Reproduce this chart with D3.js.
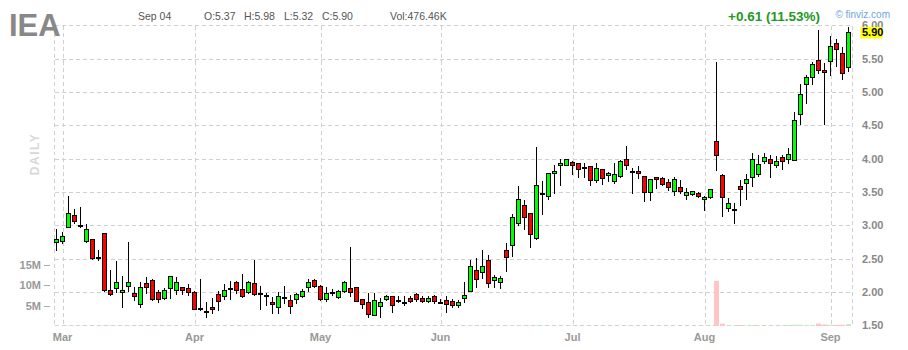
<!DOCTYPE html>
<meta charset="utf-8">
<script src="https://d3js.org/d3.v7.min.js"></script>
<style>
  body { margin: 0; background: #fff; }
  text { font-family: "Liberation Sans", Arial, sans-serif; }
</style>
<div id="chart"></div>
<script>

// month labels and the index of the first trading day of each month
const months = ["Mar", "Apr", "May", "Jun", "Jul", "Aug", "Sep"];
const monthStart = [1, 23, 44, 64, 86, 108, 129];

const priceTicks = [1.5, 2, 2.5, 3, 3.5, 4, 4.5, 5, 5.5, 6];
const volTicks = [5e6, 10e6, 15e6];

// daily OHLC, Feb 28 -> Sep 04
const opens = [2.75,2.76,2.98,3.16,3.00,2.77,2.79,2.53,2.88,2.03,
  2.06,2.00,2.09,1.98,1.82,2.13,2.18,2.00,1.91,2.06,
  2.03,2.07,2.06,2.00,1.76,1.72,1.78,1.97,1.94,2.06,
  2.15,2.04,2.00,2.13,1.99,1.95,1.85,1.78,1.93,1.88,
  1.89,1.94,2.07,2.18,2.09,1.89,2.00,1.92,2.01,2.06,
  2.07,1.89,1.85,1.65,1.79,1.89,1.94,1.88,1.85,1.91,
  1.97,1.91,1.86,1.94,1.85,1.88,1.86,1.80,1.91,2.02,
  2.33,2.30,2.48,2.18,2.15,2.63,2.70,3.03,3.30,3.18,
  2.81,3.48,3.44,3.78,3.90,3.90,3.95,3.93,3.87,3.89,
  3.68,3.84,3.75,3.66,3.74,3.99,3.81,3.81,3.74,3.50,
  3.72,3.71,3.65,3.51,3.57,3.46,3.47,3.48,3.39,3.42,
  4.27,3.76,3.26,3.25,3.59,3.63,3.72,3.77,3.96,3.99,
  3.90,4.03,3.99,3.98,4.67,5.12,5.22,5.48,5.33,5.46,
  5.74,5.59,5.37];
const highs = [2.94,2.90,3.44,3.24,3.28,3.02,2.80,2.63,2.89,2.33,
  2.47,2.24,2.75,2.08,2.15,2.22,2.19,2.03,2.06,2.24,
  2.23,2.08,2.12,2.01,2.19,1.85,1.91,2.02,2.12,2.17,
  2.16,2.27,2.17,2.48,2.09,1.98,1.93,2.00,2.09,1.95,
  1.99,2.04,2.19,2.20,2.10,2.08,2.05,2.03,2.17,2.68,
  2.08,1.89,1.99,1.99,1.91,1.95,1.94,1.94,1.94,1.94,
  1.98,1.94,1.94,1.95,1.89,1.94,1.90,1.88,2.15,2.48,
  2.51,2.63,2.56,2.25,2.24,2.73,3.17,3.59,3.38,3.18,
  4.18,3.66,3.79,3.91,3.99,3.99,3.96,3.94,3.93,3.89,
  3.93,3.84,3.80,3.93,3.98,4.19,3.86,3.89,3.74,3.69,
  3.72,3.72,3.69,3.72,3.68,3.56,3.52,3.50,3.44,3.55,
  5.45,3.77,3.41,3.34,3.68,3.77,4.09,4.05,4.09,4.06,
  4.04,4.06,4.16,4.70,5.12,5.26,5.45,5.93,5.43,5.84,
  5.80,5.68,5.98];
const lows = [2.63,2.74,2.97,3.03,2.98,2.75,2.50,2.48,2.02,1.96,
  2.00,1.78,2.02,1.88,1.78,1.99,1.88,1.85,1.90,1.91,
  1.97,1.97,1.96,1.74,1.73,1.63,1.68,1.73,1.90,1.90,
  1.99,1.93,1.99,1.96,1.75,1.80,1.69,1.69,1.83,1.69,
  1.83,1.92,2.02,2.08,1.88,1.87,1.96,1.91,2.00,1.94,
  1.86,1.76,1.62,1.65,1.63,1.88,1.70,1.85,1.80,1.85,
  1.86,1.85,1.85,1.83,1.84,1.70,1.78,1.78,1.85,2.01,
  2.08,2.21,2.08,2.08,2.06,2.32,2.54,3.00,2.95,2.68,
  2.80,3.17,3.39,3.48,3.60,3.90,3.77,3.72,3.72,3.61,
  3.65,3.62,3.66,3.63,3.72,3.84,3.48,3.71,3.36,3.38,
  3.56,3.60,3.53,3.45,3.48,3.40,3.46,3.42,3.23,3.41,
  3.83,3.14,3.21,3.04,3.31,3.40,3.59,3.74,3.94,3.73,
  3.88,3.85,3.94,3.98,4.52,4.83,5.12,5.28,4.52,5.25,
  5.39,5.20,5.32];
const closes = [2.80,2.84,3.18,3.06,3.00,2.94,2.51,2.53,2.03,1.97,
  2.15,2.03,2.15,1.94,2.08,2.07,1.89,1.89,2.03,2.24,
  2.15,2.03,2.00,1.74,1.76,1.72,1.75,1.87,2.03,2.06,
  2.03,1.94,2.15,1.97,1.99,1.95,1.82,1.94,1.93,1.79,
  1.97,2.02,2.15,2.09,1.89,1.99,2.00,2.02,2.15,2.00,
  1.86,1.82,1.67,1.88,1.85,1.94,1.80,1.88,1.85,1.87,
  1.89,1.86,1.91,1.87,1.85,1.82,1.80,1.85,1.95,2.39,
  2.19,2.39,2.13,2.22,2.21,2.53,3.12,3.39,3.12,2.87,
  3.60,3.48,3.78,3.81,3.93,3.99,3.90,3.84,3.87,3.68,
  3.86,3.71,3.78,3.77,3.96,3.90,3.81,3.78,3.50,3.69,
  3.69,3.62,3.57,3.69,3.51,3.50,3.51,3.44,3.42,3.54,
  4.05,3.43,3.34,3.25,3.54,3.69,3.99,3.92,4.03,3.93,
  3.96,3.96,4.07,4.58,4.97,5.22,5.42,5.33,5.30,5.69,
  5.65,5.29,5.90];
// volume in thousands of shares
const volumesK = [60,45,120,70,55,60,80,50,150,110,
  70,65,90,60,75,55,90,60,50,70,
  45,40,50,90,60,45,40,55,50,45,
  40,60,50,160,70,40,45,55,40,45,
  40,35,55,50,60,45,30,35,50,140,
  60,55,70,65,40,35,50,30,35,30,
  35,30,25,30,25,35,30,25,60,110,
  80,90,100,50,40,70,110,120,90,100,
  170,90,100,70,60,50,45,50,40,55,
  45,40,35,45,50,70,55,40,60,50,
  40,35,40,50,35,40,30,35,60,70,
  11100,560,100,90,260,110,250,110,100,90,
  95,100,240,330,300,260,250,620,380,300,
  280,300,476];

const data = opens.map((o, i) => ({
  i: i, o: o, h: highs[i], l: lows[i], c: closes[i], v: volumesK[i] * 1000
}));

const W = 908, H = 350;
const plotL = 54.5, plotR = 852.5, plotT = 25.3, plotB = 325.3;

const svg = d3.select("#chart").append("svg")
  .attr("width", W).attr("height", H)
  .style("display", "block");

const x = d3.scaleLinear().domain([0, 132]).range([56.5, 848.5]);
const y = d3.scaleLinear().domain([1.5, 6]).range([plotB, plotT]);
const yv = d3.scaleLinear().domain([0, 15e6]).range([326, 265]);

const px = v => Math.round(v) + 0.5;
const grid = "#d0d0d0";

// grid
const g = svg.append("g").attr("shape-rendering", "crispEdges");
g.selectAll(".hg").data(priceTicks).join("line")
  .attr("x1", plotL).attr("x2", plotR)
  .attr("y1", d => px(y(d))).attr("y2", d => px(y(d)))
  .attr("stroke", grid).attr("stroke-dasharray", "4,3");
g.selectAll(".vg").data(monthStart).join("line")
  .attr("x1", d => px(x(d))).attr("x2", d => px(x(d)))
  .attr("y1", px(plotT)).attr("y2", px(plotB))
  .attr("stroke", grid).attr("stroke-dasharray", "4,3");
[plotL, plotR].forEach(xx => {
  g.append("line").attr("x1", xx).attr("x2", xx)
    .attr("y1", px(plotT)).attr("y2", px(plotB))
    .attr("stroke", grid).attr("stroke-dasharray", "4,3");
});

// volume bars
svg.append("g").selectAll("rect").data(data).join("rect")
  .attr("x", d => x(d.i) - 2.5)
  .attr("width", 5)
  .attr("y", d => yv(d.v))
  .attr("height", d => yv(0) - yv(d.v))
  .attr("fill", d => d.c >= d.o ? "#c4ecc4" : "#ffc4c4");

// volume axis
const vAxis = svg.append("g");
vAxis.selectAll("line").data(volTicks).join("line")
  .attr("x1", 44).attr("x2", 50)
  .attr("y1", d => px(yv(d))).attr("y2", d => px(yv(d)))
  .attr("stroke", "#aaa").attr("shape-rendering", "crispEdges");
vAxis.selectAll("text").data(volTicks).join("text")
  .attr("x", 41).attr("y", d => yv(d) + 4)
  .attr("text-anchor", "end")
  .attr("font-size", 11).attr("font-weight", "bold").attr("fill", "#999")
  .text(d => d / 1e6 + "M");

// candles
const cg = svg.append("g").attr("shape-rendering", "crispEdges");
cg.selectAll(".wick").data(data).join("line")
  .attr("x1", d => x(d.i)).attr("x2", d => x(d.i))
  .attr("y1", d => Math.round(y(d.h))).attr("y2", d => Math.round(y(d.l)) + 1)
  .attr("stroke", "#000");
const bodies = data.filter(d => d.o !== d.c);
cg.selectAll(".body").data(bodies).join("rect")
  .attr("x", d => x(d.i) - 2)
  .attr("width", 4)
  .attr("y", d => px(y(Math.max(d.o, d.c))))
  .attr("height", d => Math.max(1, Math.round(y(Math.min(d.o, d.c))) - Math.round(y(Math.max(d.o, d.c)))))
  .attr("fill", d => d.c > d.o ? "#00ff00" : "#ff0000")
  .attr("stroke", "#000");
cg.selectAll(".doji").data(data.filter(d => d.o === d.c)).join("line")
  .attr("x1", d => x(d.i) - 2.5).attr("x2", d => x(d.i) + 2.5)
  .attr("y1", d => px(y(d.c))).attr("y2", d => px(y(d.c)))
  .attr("stroke", "#000").attr("stroke-width", 2);

// price axis (6.00 sits partly under the last-price marker, as in finviz)
svg.append("g").selectAll("text").data(priceTicks).join("text")
  .attr("x", 862).attr("y", d => y(d) + 4)
  .attr("font-size", 11).attr("font-weight", "bold").attr("fill", "#888")
  .text(d => d.toFixed(2));

// last price marker
const last = closes[closes.length - 1];
svg.append("rect").attr("x", 860.5).attr("y", y(last) - 5)
  .attr("width", 22).attr("height", 11.5).attr("fill", "#ffff00");
svg.append("text").attr("x", 862).attr("y", y(last) + 4)
  .attr("font-size", 11).attr("font-weight", "bold").attr("fill", "#000")
  .text(last.toFixed(2));

// month labels
svg.append("g").selectAll("text").data(monthStart).join("text")
  .attr("x", d => x(d)).attr("y", 341)
  .attr("text-anchor", "middle")
  .attr("font-size", 11).attr("font-weight", "bold").attr("fill", "#999")
  .text((d, k) => months[k]);

// titles
svg.append("text").attr("x", 9).attr("y", 35.5)
  .attr("font-size", 31).attr("font-weight", "bold").attr("fill", "#888")
  .text("IEA");
svg.append("text")
  .attr("transform", "translate(38.5,154) rotate(-90)")
  .attr("text-anchor", "middle")
  .attr("font-size", 12).attr("font-weight", "bold").attr("fill", "#d8d8d8")
  .attr("letter-spacing", 1.5)
  .text("DAILY");

const hdr = [["Sep 04", 138], ["O:5.37", 204], ["H:5.98", 244], ["L:5.32", 284],
  ["C:5.90", 322], ["Vol:476.46K", 390]];
svg.append("g").selectAll("text").data(hdr).join("text")
  .attr("x", d => d[1]).attr("y", 19.5)
  .attr("font-size", 10.5).attr("fill", "#555")
  .text(d => d[0]);

const prev = closes[closes.length - 2];
const chg = last - prev;
svg.append("text").attr("x", 820).attr("y", 20.5)
  .attr("text-anchor", "end")
  .attr("font-size", 13.5).attr("font-weight", "bold").attr("fill", "#229922")
  .text("+" + chg.toFixed(2) + " (" + (chg / prev * 100).toFixed(2) + "%)");
svg.append("text").attr("x", 890).attr("y", 17.5)
  .attr("text-anchor", "end")
  .attr("font-size", 10).attr("fill", "#6fa8dc")
  .text("\u00a9 finviz.com");
</script>
